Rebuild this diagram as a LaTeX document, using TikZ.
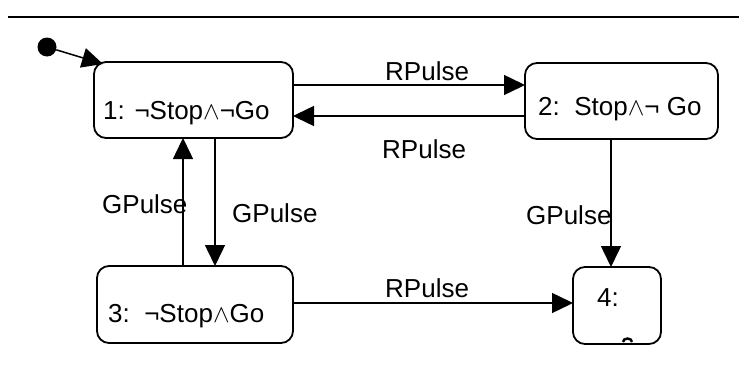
\documentclass[tikz,border=0pt]{standalone}
\usepackage{fontspec}
\setmainfont{Liberation Sans}
\usetikzlibrary{arrows.meta}
\newcommand{\wdg}{\ensuremath{\wedge}}
\tikzset{
  state/.style={draw, line width=1.8pt, rounded corners=12pt, inner sep=0pt, outer sep=0pt},
  arr/.style={line width=1.5pt, -{Triangle[length=21pt,width=20pt]}},
  lbl/.style={anchor=base west, inner sep=0pt, font=\fontsize{26pt}{30pt}\selectfont}
}
\begin{document}
\begin{tikzpicture}[x=1pt,y=-1pt]
\useasboundingbox (0,0) rectangle (739,372);
\draw[line width=2.4pt] (8,17) -- (739,17);
% states
\node[state, minimum width=199pt, minimum height=76pt] (b1) at (193.5,100) {};
\node[state, minimum width=193pt, minimum height=76pt] (b2) at (621.5,101) {};
\node[state, minimum width=196pt, minimum height=77pt] (b3) at (195,304.5) {};
\node[state, minimum width=88pt, minimum height=77pt] (b4) at (617,305.5) {};
% state texts
\node[lbl] (t1) at (103,119) {1: ¬Stop\wdg¬Go};
\node[lbl] (t2) at (538,115) {2:\ \ Stop\wdg¬ Go};
\node[lbl] (t3) at (108,322) {3:\ \ ¬Stop\wdg Go};
\node[lbl] (t4) at (597,306) {4:};
\draw[line width=2.4pt] (623,342) arc[start angle=180, end angle=0, x radius=4.5pt, y radius=3.5pt];
% initial
\node[circle, fill, inner sep=0pt, minimum size=19pt] (init) at (47,47) {};
\coordinate (initend) at (103,64);
\draw[arr] (init) -- (initend);
% transitions
\coordinate (p1) at ([yshift=15pt]b1.east);
\draw[arr] (p1) -- (p1 -| b2.west);
\coordinate (p2) at ([yshift=-15pt]b2.west);
\draw[arr] (p2) -- (p2 -| b1.east);
\coordinate (p3) at ([xshift=-12pt]b3.north);
\draw[arr] (p3) -- (p3 |- b1.south);
\coordinate (p4) at ([xshift=21.5pt]b1.south);
\draw[arr] (p4) -- (p4 |- b3.north);
\coordinate (p5) at ([xshift=-10.5pt]b2.south);
\draw[arr] (p5) -- (p5 |- b4.north);
\coordinate (p6) at ([yshift=1.5pt]b3.east);
\draw[arr] (p6) -- (p6 -| b4.west);
% labels
\node[lbl] (l1) at (385,80) {RPulse};
\node[lbl] (l2) at (382,158) {RPulse};
\node[lbl] (l3) at (102,213) {GPulse};
\node[lbl] (l4) at (232,222) {GPulse};
\node[lbl] (l5) at (526,224) {GPulse};
\node[lbl] (l6) at (385,297) {RPulse};
\end{tikzpicture}
\end{document}
